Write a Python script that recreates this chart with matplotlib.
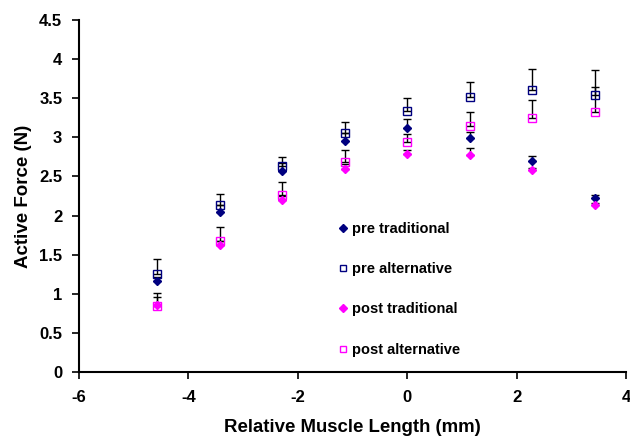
import matplotlib
matplotlib.use("Agg")
import matplotlib.pyplot as plt
import numpy as np

plt.rcParams['font.family'] = ['Liberation Sans', 'DejaVu Sans']
plt.rcParams['axes.unicode_minus'] = False

x = [-4.57, -3.43, -2.29, -1.14, 0.0, 1.14, 2.29, 3.43]

pre_trad = [1.17, 2.05, 2.57, 2.95, 3.12, 2.99, 2.70, 2.22]
pre_trad_err = [0.05, 0.08, 0.10, 0.10, 0.11, 0.08, 0.06, 0.04]
pre_alt = [1.25, 2.13, 2.63, 3.06, 3.34, 3.51, 3.60, 3.54]
pre_alt_err = [0.20, 0.15, 0.12, 0.13, 0.16, 0.20, 0.28, 0.32]
post_trad = [0.86, 1.62, 2.20, 2.60, 2.79, 2.77, 2.58, 2.13]
post_trad_err = [0.10, 0.06, 0.05, 0.06, 0.05, 0.10, 0.03, 0.03]
post_alt = [0.84, 1.67, 2.26, 2.68, 2.94, 3.15, 3.25, 3.33]
post_alt_err = [0.17, 0.19, 0.17, 0.16, 0.10, 0.17, 0.23, 0.31]

labels = ["pre traditional", "pre alternative", "post traditional", "post alternative"]

fig = plt.figure(figsize=(6.3, 4.4), dpi=100)
ax = fig.add_axes([0.1254, 0.1545, 0.8683, 0.8000])

navy = '#000080'
mag = '#FF00FF'

series = [
    (pre_trad, pre_trad_err, 'D', navy, navy, 4.5),
    (pre_alt, pre_alt_err, 's', 'none', navy, 5.8),
    (post_trad, post_trad_err, 'D', mag, mag, 4.5),
    (post_alt, post_alt_err, 's', 'none', mag, 5.8),
]
handles = []
for (y, e, m, fc, ec, ms), lab in zip(series, labels):
    ax.errorbar(x, y, yerr=[np.zeros(len(e)), e], fmt='none', ecolor='black',
                elinewidth=1.0, capsize=3, capthick=1.0, zorder=2)
    h = ax.plot(x, y, linestyle='none', marker=m, markerfacecolor=fc,
                markeredgecolor=ec, markersize=ms, markeredgewidth=1.0,
                label=lab, zorder=3)[0]
    handles.append(h)

ax.set_xlim(-6, 4)
ax.set_ylim(0, 4.5)
ax.set_xticks([-6, -4, -2, 0, 2, 4])
ax.set_yticks([0, 0.5, 1, 1.5, 2, 2.5, 3, 3.5, 4, 4.5])
ax.set_yticklabels(['0', '0.5', '1', '1.5', '2', '2.5', '3', '3.5', '4', '4.5'])
for sp in ['top', 'right']:
    ax.spines[sp].set_visible(False)
for sp in ['left', 'bottom']:
    ax.spines[sp].set_linewidth(1.5)
ax.tick_params(direction='out', length=5, width=1.2, labelsize=12)
ax.tick_params(axis='x', pad=8)
ax.tick_params(axis='y', pad=7)
for t in ax.get_xticklabels() + ax.get_yticklabels():
    t.set_fontweight('bold')

ax.set_xlabel('Relative Muscle Length (mm)', fontsize=13.4, fontweight='bold', labelpad=10)
ax.set_ylabel('Active Force (N)', fontsize=13.5, fontweight='bold', labelpad=5)

leg = ax.legend(handles=handles, loc='upper left', bbox_to_anchor=(339/630, 1 - 222/440),
                bbox_transform=fig.transFigure, frameon=False,
                labelspacing=1.8, handlelength=0.5, handletextpad=0.4, markerscale=0.8,
                borderpad=0, borderaxespad=0, prop={'weight': 'bold', 'size': 10.5})

fig.savefig('out.png', dpi=100)
